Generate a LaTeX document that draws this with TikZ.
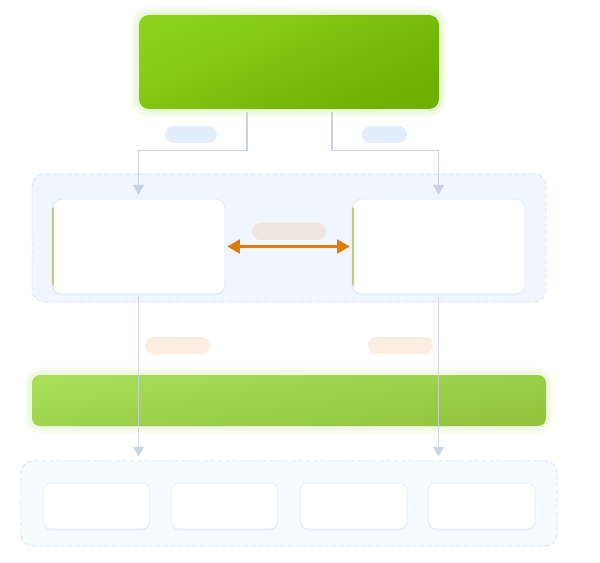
\documentclass[tikz,border=0pt]{standalone}
\usepackage{tikz}
\usetikzlibrary{arrows}
\usetikzlibrary{shadows}
\usetikzlibrary{backgrounds}
\definecolor{topL}{HTML}{8BD21D}
\definecolor{topR}{HTML}{6DB000}
\definecolor{barL}{HTML}{A8DE58}
\definecolor{barR}{HTML}{92C43E}
\definecolor{edgegray}{HTML}{C8D2E0}
\definecolor{pillblue}{HTML}{E3EEFC}
\definecolor{pillorange}{HTML}{FBEEE0}
\definecolor{pillmid}{HTML}{EFE6DF}
\definecolor{groupfill}{HTML}{F1F6FE}
\definecolor{groupfillb}{HTML}{F7FAFF}
\definecolor{groupdraw}{HTML}{CCE1FA}
\definecolor{linkorange}{HTML}{E07A0A}
\definecolor{leafgreen}{HTML}{8CC63F}
\definecolor{cardline}{HTML}{E4E8EF}
\tikzset{%
  myedge/.style={->, shorten >=3pt, shorten <=2pt, >=triangle 60, draw=edgegray, line width=1pt},
  mylink/.style={<->, shorten >=1.5pt, shorten <=1.5pt, >=triangle 60, draw=linkorange, line width=1.6pt},
  mygroup/.style={rectangle, rounded corners=9pt, draw=groupdraw, dash pattern=on 3.5pt off 2pt, line width=0.6pt, inner sep=0pt},
  mycard/.style={rectangle, rounded corners=7.5pt, fill=white, draw=cardline, line width=0.5pt, inner sep=0pt,
    drop shadow={shadow xshift=0pt, shadow yshift=-1.2pt, opacity=0.07}},
  mypill/.style={rectangle, rounded corners=6.375pt, minimum height=12.75pt, inner sep=0pt}
}

\begin{document}
\begin{tikzpicture}[x=0.75pt, y=-0.75pt]
  \useasboundingbox (0,0) rectangle (600,563);

% groups
\node [mygroup, fill=groupfill, minimum width=385.5pt, minimum height=96pt] (mid) at (289,238) {};
\node [mygroup, fill=groupfillb, minimum width=402pt, minimum height=63.75pt] (bot) at (289,503.5) {};

% top box and bar
\node [rectangle, rounded corners=7.5pt, minimum width=225pt, minimum height=70.5pt,
  top color=topL, bottom color=topR, shading angle=25]
  (top) at (289,62) {};
\node [rectangle, rounded corners=6pt, minimum width=385.5pt, minimum height=38.25pt,
  top color=barL, bottom color=barR, shading angle=8]
  (bar) at (289,400.5) {};

% soft glow
\begin{scope}[on background layer]
  \foreach \w in {3,6,9,12} {
    \draw [topL, line width=\w pt, opacity=0.05, rounded corners=7.5pt] (top.north west) rectangle (top.south east);
    \draw [barL, line width=\w pt, opacity=0.05, rounded corners=6pt] (bar.north west) rectangle (bar.south east);
  }
\end{scope}

% cards
\foreach \n / \x in {lbox/138.5, rbox/438.5} {
  \node [mycard, minimum width=129.75pt, minimum height=71.25pt,
    path picture={\fill[leafgreen] (path picture bounding box.north west) rectangle ([xshift=1.2pt]path picture bounding box.south west);}]
    (\n) at (\x,246.5) {};
}
\foreach \i / \x in {1/96.5, 2/224.5, 3/353.5, 4/481.5} {
  \node [mycard, rounded corners=6pt, minimum width=80.25pt, minimum height=34.5pt] (b\i) at (\x,506) {};
}

% pills
\node [mypill, fill=pillblue, minimum width=39pt] (p1) at (191,134.5) {};
\node [mypill, fill=pillblue, minimum width=33.75pt] (p2) at (384.5,134.5) {};
\node [mypill, fill=pillmid, minimum width=55.5pt] (p3) at (289,231.5) {};
\node [mypill, fill=pillorange, minimum width=48.75pt] (p4) at (177.5,345.5) {};
\node [mypill, fill=pillorange, minimum width=48.75pt] (p5) at (400.5,345.5) {};

% edges
\draw [myedge] ([xshift=-31.5pt]top.south) -- ++(0,41) -| (lbox.north);
\draw [myedge] ([xshift=32.25pt]top.south) -- ++(0,41) -| (rbox.north);
\draw [mylink] (lbox.east) -- (rbox.west);
\draw [myedge, draw opacity=0.85] (lbox.south) -- (lbox.south |- bot.north);
\draw [myedge, draw opacity=0.85] (rbox.south) -- (rbox.south |- bot.north);

\end{tikzpicture}
\end{document}
